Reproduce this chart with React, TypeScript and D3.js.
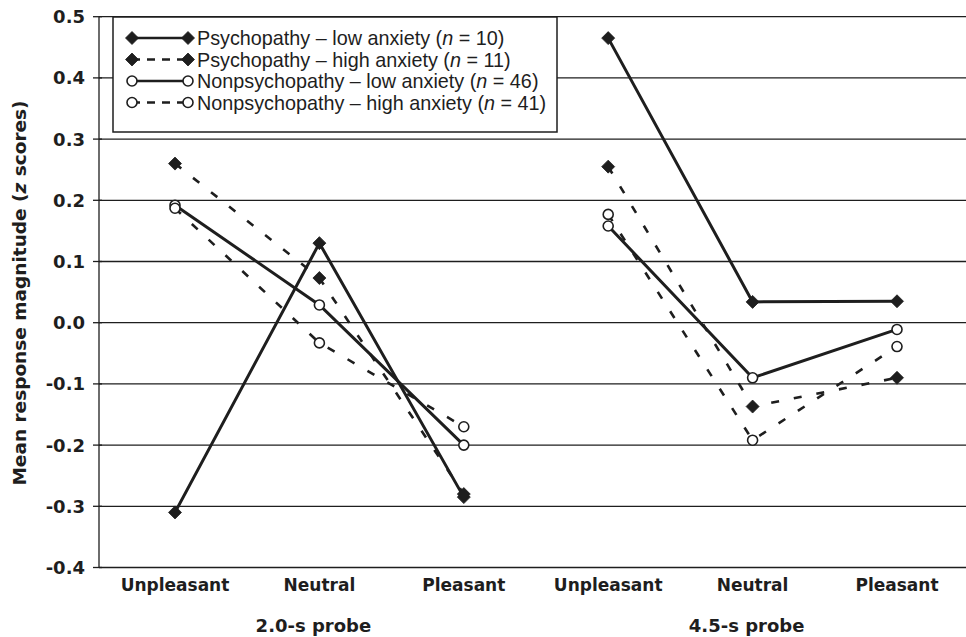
import React from "react";
import * as d3 from "d3";

const emotions = ["Unpleasant", "Neutral", "Pleasant"];
const probes = ["2.0-s probe", "4.5-s probe"];
const yTicks = [0.5, 0.4, 0.3, 0.2, 0.1, 0.0, -0.1, -0.2, -0.3, -0.4];

// values: [2.0s Unpl, Neut, Pleas, 4.5s Unpl, Neut, Pleas]
const psychLow = [-0.31, 0.13, -0.285, 0.465, 0.034, 0.035];
const psychHigh = [0.26, 0.073, -0.28, 0.255, -0.137, -0.09];
const nonLow = [0.192, 0.029, -0.2, 0.158, -0.09, -0.011];
const nonHigh = [0.187, -0.033, -0.17, 0.177, -0.192, -0.039];

const seriesNames = ["Psychopathy \u2013 low anxiety", "Psychopathy \u2013 high anxiety", "Nonpsychopathy \u2013 low anxiety", "Nonpsychopathy \u2013 high anxiety"];
const seriesN = [10, 11, 46, 41];

const W = 966, H = 637;
const INK = "#1e1e1e";
const FONT = "'DejaVu Sans', 'Liberation Sans', Arial, sans-serif";
const LEGEND_FONT = "'Liberation Sans', Arial, Helvetica, sans-serif";

export default function App() {
  const series = [
    { name: seriesNames[0], n: seriesN[0], values: psychLow, dashed: false, marker: "diamond" },
    { name: seriesNames[1], n: seriesN[1], values: psychHigh, dashed: true, marker: "diamond" },
    { name: seriesNames[2], n: seriesN[2], values: nonLow, dashed: false, marker: "circle" },
    { name: seriesNames[3], n: seriesN[3], values: nonHigh, dashed: true, marker: "circle" },
  ];
  const cats = d3.range(probes.length * emotions.length);
  const x = d3.scalePoint<number>().domain(cats).range([175, 897]);
  const y = d3.scaleLinear().domain([-0.4, 0.5]).range([567.5, 16.7]);
  const left = 99, right = 966;
  const line = d3.line<[number, number]>().x((d) => d[0]).y((d) => d[1]);
  const fmt = (t: number) => d3.format(".1f")(t).replace("\u2212", "-");

  const diamond = (cx: number, cy: number, r: number) =>
    `M${cx},${cy - r}L${cx + r},${cy}L${cx},${cy + r}L${cx - r},${cy}Z`;

  const marker = (kind: string, cx: number, cy: number, key: string) =>
    kind === "diamond" ? (
      <path key={key} d={diamond(cx, cy, 6.5)} fill={INK} stroke={INK} strokeWidth={0.8} />
    ) : (
      <circle key={key} cx={cx} cy={cy} r={5} fill="#fff" stroke={INK} strokeWidth={1.6} />
    );

  const legendX = 113, legendY = 17, legendW = 444, legendH = 115;

  return (
    <svg width={W} height={H} style={{ position: "absolute", left: 0, top: 0, background: "#fff" }} fontFamily={FONT}>
      <rect x={0} y={0} width={W} height={H} fill="#fff" />
      {/* gridlines */}
      {yTicks.map((t) => (
        <line key={"g" + t} x1={left} x2={right} y1={y(t)} y2={y(t)} stroke={INK} strokeWidth={1.3} />
      ))}
      {/* y axis */}
      <line x1={left} x2={left} y1={y(0.5)} y2={y(-0.4)} stroke={INK} strokeWidth={1.3} />
      {yTicks.map((t) => (
        <g key={"t" + t}>
          <line x1={left - 6} x2={left + 3} y1={y(t)} y2={y(t)} stroke={INK} strokeWidth={1.3} />
          <text x={85} y={y(t)} dy="0.36em" textAnchor="end" fontSize={18} fontWeight="bold" fill={INK}>
            {fmt(t)}
          </text>
        </g>
      ))}
      <text transform={`translate(26,${293}) rotate(-90)`} textAnchor="middle" fontSize={18.5} fontWeight="bold" fill={INK}>
        Mean response magnitude (<tspan fontStyle="italic">z</tspan> scores)
      </text>
      {/* category labels */}
      {cats.map((c) => (
        <text key={"c" + c} x={x(c)} y={591} textAnchor="middle" fontSize={17} fontWeight="bold" fill={INK}>
          {emotions[c % emotions.length]}
        </text>
      ))}
      {probes.map((p, i) => {
        const mid = (x(i * 3)! + x(i * 3 + 2)!) / 2;
        return (
          <text key={p} x={mid - 6} y={632} textAnchor="middle" fontSize={18} fontWeight="bold" fill={INK}>
            {p}
          </text>
        );
      })}
      {/* lines */}
      {series.map((s, si) =>
        probes.map((p, pi) => {
          const pts: [number, number][] = [0, 1, 2].map((k) => [x(pi * 3 + k)!, y(s.values[pi * 3 + k])]);
          return (
            <path
              key={`l${si}-${pi}`}
              d={line(pts)!}
              fill="none"
              stroke={INK}
              strokeWidth={s.dashed ? 2.6 : 3}
              strokeDasharray={s.dashed ? "8,15" : undefined}
            />
          );
        })
      )}
      {/* markers */}
      {series.map((s, si) =>
        s.values.map((v, k) => marker(s.marker, x(k)!, y(v), `m${si}-${k}`))
      )}
      {/* legend */}
      <rect x={legendX} y={legendY} width={legendW} height={legendH} fill="#fff" stroke={INK} strokeWidth={1.5} />
      {series.map((s, i) => {
        const ly = 38 + i * 21.5;
        const x1 = 132, x2 = 188;
        return (
          <g key={"lg" + i}>
            <line x1={x1} x2={x2} y1={ly} y2={ly} stroke={INK} strokeWidth={2.5} strokeDasharray={s.dashed ? "8,7" : undefined} />
            {marker(s.marker, x1, ly, "la" + i)}
            {marker(s.marker, x2, ly, "lb" + i)}
            <text x={197} y={ly} dy="0.36em" fontSize={19.8} fontFamily={LEGEND_FONT} fill={INK}>
              {s.name} (<tspan fontStyle="italic">n</tspan> = {s.n})
            </text>
          </g>
        );
      })}
    </svg>
  );
}
